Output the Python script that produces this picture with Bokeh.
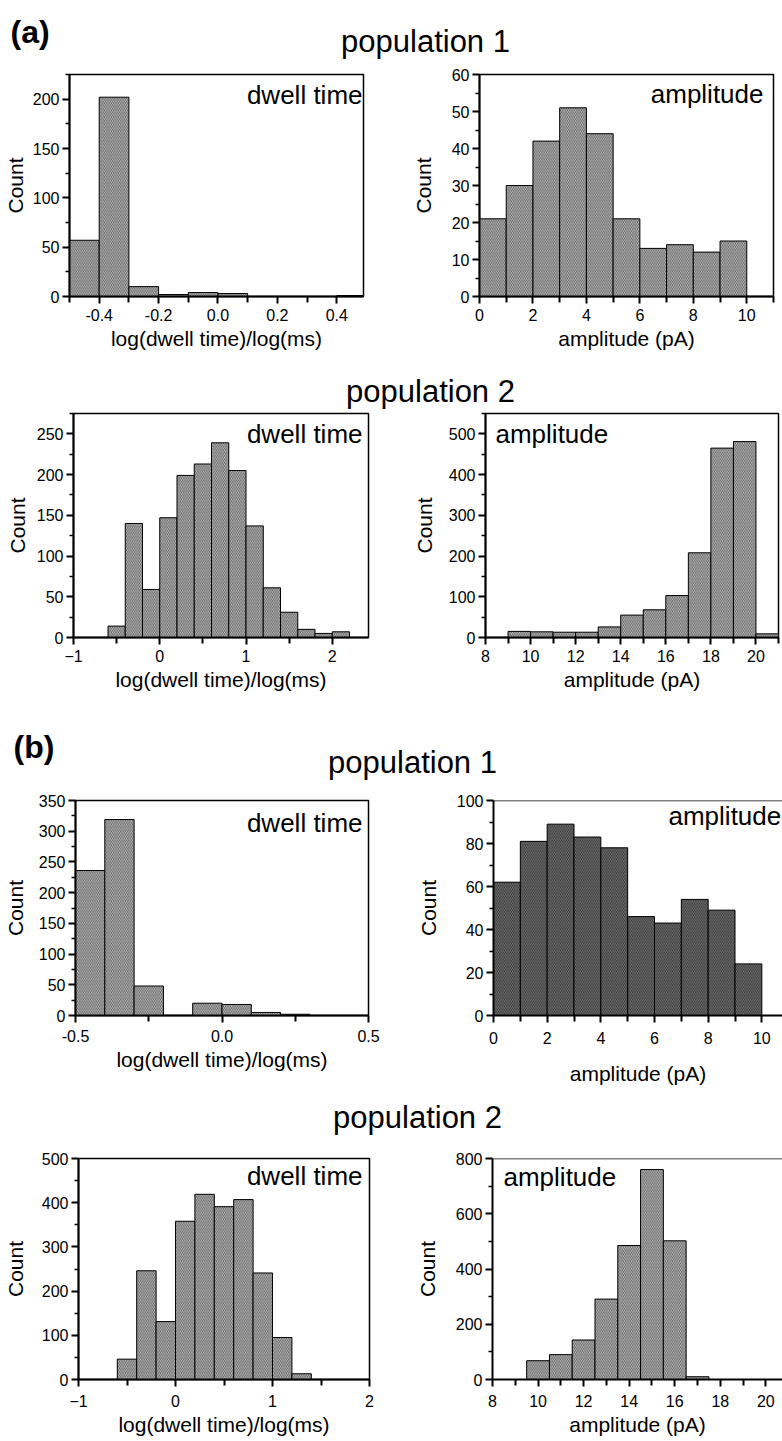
from bokeh.plotting import figure
from bokeh.layouts import column, row
from bokeh.models import Range1d, FixedTicker, PrintfTickFormatter, Label, Span
from bokeh.embed import file_html
from bokeh.resources import INLINE

FONT = "Liberation Sans"
BASE_FIX = 10  # rendered alphabetic baseline sits ~10px low; compensate

# ---------------- data ----------------
# (a) population 1 : dwell time
a1_left = [-0.5, -0.4, -0.3, -0.2, -0.1, 0.0, 0.4]
a1_count = [57, 202, 10, 2, 4, 3, 1]
a1_binw = 0.1
# (a) population 1 : amplitude
a2_left = [0, 1, 2, 3, 4, 5, 6, 7, 8, 9]
a2_count = [21, 30, 42, 51, 44, 21, 13, 14, 12, 15]
a2_binw = 1.0
# (a) population 2 : dwell time
a3_left = [-0.6, -0.4, -0.2, 0.0, 0.2, 0.4, 0.6, 0.8, 1.0, 1.2, 1.4, 1.6, 1.8, 2.0]
a3_count = [14, 140, 59, 147, 199, 213, 239, 205, 137, 61, 31, 10, 5, 7]
a3_binw = 0.2
# (a) population 2 : amplitude
a4_left = [9, 10, 11, 12, 13, 14, 15, 16, 17, 18, 19, 20]
a4_count = [15, 14, 13, 13, 26, 55, 68, 103, 208, 465, 481, 9]
a4_binw = 1.0
# (b) population 1 : dwell time
b1_left = [-0.5, -0.4, -0.3, -0.1, 0.0, 0.1, 0.2]
b1_count = [236, 319, 48, 20, 18, 5, 2]
b1_binw = 0.1
# (b) population 1 : amplitude
b2_left = [0, 1, 2, 3, 4, 5, 6, 7, 8, 9]
b2_count = [62, 81, 89, 83, 78, 46, 43, 54, 49, 24]
b2_binw = 1.0
# (b) population 2 : dwell time
b3_left = [-0.6, -0.4, -0.2, 0.0, 0.2, 0.4, 0.6, 0.8, 1.0, 1.2]
b3_count = [46, 246, 131, 358, 419, 391, 407, 241, 95, 13]
b3_binw = 0.2
# (b) population 2 : amplitude
b4_left = [9.5, 10.5, 11.5, 12.5, 13.5, 14.5, 15.5, 16.5]
b4_count = [68, 90, 143, 291, 485, 760, 502, 10]
b4_binw = 1.0

# tick values
a1_xticks = [-0.4, -0.2, 0.0, 0.2, 0.4]
a1_xminor = [-0.5, -0.3, -0.1, 0.1, 0.3]
a1_yticks = [0, 50, 100, 150, 200]
a1_yminor = [25, 75, 125, 175, 225]
a2_xticks = [0, 2, 4, 6, 8, 10]
a2_xminor = [1, 3, 5, 7, 9, 11]
a2_yticks = [0, 10, 20, 30, 40, 50, 60]
a2_yminor = [5, 15, 25, 35, 45, 55]
a3_xticks = [-1, 0, 1, 2]
a3_xminor = [-0.5, 0.5, 1.5]
a3_yticks = [0, 50, 100, 150, 200, 250]
a3_yminor = [25, 75, 125, 175, 225, 275]
a4_xticks = [8, 10, 12, 14, 16, 18, 20]
a4_xminor = [9, 11, 13, 15, 17, 19, 21]
a4_yticks = [0, 100, 200, 300, 400, 500]
a4_yminor = [50, 150, 250, 350, 450, 550]
b1_xticks = [-0.5, 0.0, 0.5]
b1_xminor = [-0.25, 0.25]
b1_yticks = [0, 50, 100, 150, 200, 250, 300, 350]
b1_yminor = [25, 75, 125, 175, 225, 275, 325]
b2_xticks = [0, 2, 4, 6, 8, 10]
b2_xminor = [1, 3, 5, 7, 9]
b2_yticks = [0, 20, 40, 60, 80, 100]
b2_yminor = [10, 30, 50, 70, 90]
b3_xticks = [-1, 0, 1, 2]
b3_xminor = [-0.5, 0.5, 1.5]
b3_yticks = [0, 100, 200, 300, 400, 500]
b3_yminor = [50, 150, 250, 350, 450]
b4_xticks = [8, 10, 12, 14, 16, 18, 20]
b4_xminor = [9, 11, 13, 15, 17, 19]
b4_yticks = [0, 200, 400, 600, 800]
b4_yminor = [100, 300, 500, 700]

DWELL_LABEL = "log(dwell time)/log(ms)"
AMP_LABEL = "amplitude (pA)"


def panel(lefts, counts, binw, xr, yr, xt, xm, yt, ym, xfmt, xlabel, tag, tag_side,
          tag_dx, tag_dy, w, h, bl, br, bt, bb, ystand, xstand=5, xlstand=3,
          dark=False, open_right=False):
    p = figure(width=w, height=h, x_range=Range1d(*xr), y_range=Range1d(*yr),
               toolbar_location=None, output_backend="svg",
               min_border_left=bl, min_border_right=br,
               min_border_top=bt, min_border_bottom=bb)
    p.grid.visible = False
    p.background_fill_color = "white"
    p.border_fill_color = "white"
    rights = [l + binw for l in lefts]
    p.quad(left=lefts, right=rights, bottom=0, top=counts,
           fill_color="#7a7a7a" if dark else "#c4c4c4",
           line_color="black", line_width=1,
           hatch_pattern="left_diagonal_line",
           hatch_color="#262626" if dark else "#4a4a4a",
           hatch_scale=3.5, hatch_weight=0.8)
    for ax, ticks, minor in ((p.xaxis[0], xt, xm), (p.yaxis[0], yt, ym)):
        ax.ticker = FixedTicker(ticks=ticks, minor_ticks=minor)
        ax.axis_line_width = 2
        ax.major_tick_line_width = 2
        ax.minor_tick_line_width = 1.5
        ax.major_tick_in = 0
        ax.major_tick_out = 7
        ax.minor_tick_in = 0
        ax.minor_tick_out = 4
        ax.major_label_text_font = FONT
        ax.major_label_text_font_size = "16px"
        ax.major_label_text_color = "black"
        ax.axis_label_text_font = FONT
        ax.axis_label_text_font_size = "21px"
        ax.axis_label_text_font_style = "normal"
        ax.axis_label_text_color = "black"
    p.xaxis[0].minor_tick_out = 6
    p.xaxis[0].minor_tick_line_width = 2
    if xfmt:
        p.xaxis[0].formatter = PrintfTickFormatter(format=xfmt)
    p.xaxis[0].axis_label = xlabel
    p.xaxis[0].major_label_standoff = xstand
    p.xaxis[0].axis_label_standoff = xlstand
    p.yaxis[0].axis_label = "Count"
    p.yaxis[0].major_label_standoff = 3
    p.yaxis[0].axis_label_standoff = ystand
    if open_right:
        p.outline_line_color = None
        p.add_layout(Span(location=yr[1], dimension="width", line_color="black", line_width=1.5))
    else:
        p.outline_line_color = "black"
        p.outline_line_width = 1.5
        p.outline_line_alpha = 1
    dy = tag_dy - BASE_FIX
    if tag_side == "right":
        lab = Label(x=xr[1], y=yr[1], x_offset=-tag_dx, y_offset=-dy, text=tag,
                    text_align="right", text_baseline="alphabetic")
    else:
        lab = Label(x=xr[0], y=yr[1], x_offset=tag_dx, y_offset=-dy, text=tag,
                    text_align="left", text_baseline="alphabetic")
    lab.text_font = FONT
    lab.text_font_size = "26px"
    lab.text_color = "black"
    p.add_layout(lab)
    return p


def header(h, items):
    p = figure(width=782, height=h, x_range=Range1d(0, 782), y_range=Range1d(h, 0),
               toolbar_location=None, output_backend="svg",
               x_axis_location=None, y_axis_location=None, min_border=0,
               outline_line_color=None)
    p.grid.visible = False
    for (x, y, t, size, style, align) in items:
        p.add_layout(Label(x=x, y=y - BASE_FIX, text=t, text_font=FONT, text_font_size=size,
                           text_font_style=style, text_align=align,
                           text_baseline="alphabetic", text_color="black"))
    return p


h1 = header(62, [(10, 41, "(a)", "32px", "bold", "left"),
                 (425, 51, "population 1", "31px", "normal", "center")])
A1 = panel(a1_left, a1_count, a1_binw, (-0.5, 0.49), (0, 225), a1_xticks, a1_xminor,
           a1_yticks, a1_yminor, "%.1f", DWELL_LABEL, "dwell time", "right", 1, 30,
           400, 298, 68, 37, 11, 64, 3)
A2 = panel(a2_left, a2_count, a2_binw, (0, 11), (0, 60), a2_xticks, a2_xminor,
           a2_yticks, a2_yminor, None, AMP_LABEL, "amplitude", "right", 10, 29,
           382, 298, 79, 9, 12, 64, 14)
h2 = header(49, [(430, 41, "population 2", "31px", "normal", "center")])
A3 = panel(a3_left, a3_count, a3_binw, (-1.0, 2.42), (0, 275), a3_xticks, a3_xminor,
           a3_yticks, a3_yminor, None, DWELL_LABEL, "dwell time", "right", 6, 30,
           400, 306, 73, 32, 4, 78, 5)
A4 = panel(a4_left, a4_count, a4_binw, (8, 21), (0, 550), a4_xticks, a4_xminor,
           a4_yticks, a4_yminor, None, AMP_LABEL, "amplitude", "left", 10, 30,
           382, 306, 85, 4, 4, 78, 10)
h3 = header(68, [(13, 41, "(b)", "32px", "bold", "left"),
                 (412, 57, "population 1", "31px", "normal", "center")])
B1 = panel(b1_left, b1_count, b1_binw, (-0.5, 0.5), (0, 350), b1_xticks, b1_xminor,
           b1_yticks, b1_yminor, "%.1f", DWELL_LABEL, "dwell time", "right", 6, 32,
           400, 307, 73, 32, 8, 75, 9, xstand=7)
B2 = panel(b2_left, b2_count, b2_binw, (0, 10.77), (0, 100), b2_xticks, b2_xminor,
           b2_yticks, b2_yminor, None, AMP_LABEL, "amplitude", "left", 175, 25,
           382, 307, 93, 0, 17, 67, 14, xstand=9, xlstand=15,
           dark=True, open_right=True)
h4 = header(60, [(417, 37, "population 2", "31px", "normal", "center")])
B3 = panel(b3_left, b3_count, b3_binw, (-1, 2), (0, 500), b3_xticks, b3_xminor,
           b3_yticks, b3_yminor, None, DWELL_LABEL, "dwell time", "right", 7, 27,
           400, 291, 75, 31, 8, 61, 12, xstand=8)
B4 = panel(b4_left, b4_count, b4_binw, (8, 20.73), (0, 800), b4_xticks, b4_xminor,
           b4_yticks, b4_yminor, None, AMP_LABEL, "amplitude", "left", 11, 28,
           382, 291, 92, 0, 7, 62, 14, xstand=8, open_right=True)

layout = column(h1, row(A1, A2), h2, row(A3, A4), h3, row(B1, B2), h4, row(B3, B4))

with open("out.html", "w") as f:
    f.write(file_html(layout, INLINE, title="histograms"))
